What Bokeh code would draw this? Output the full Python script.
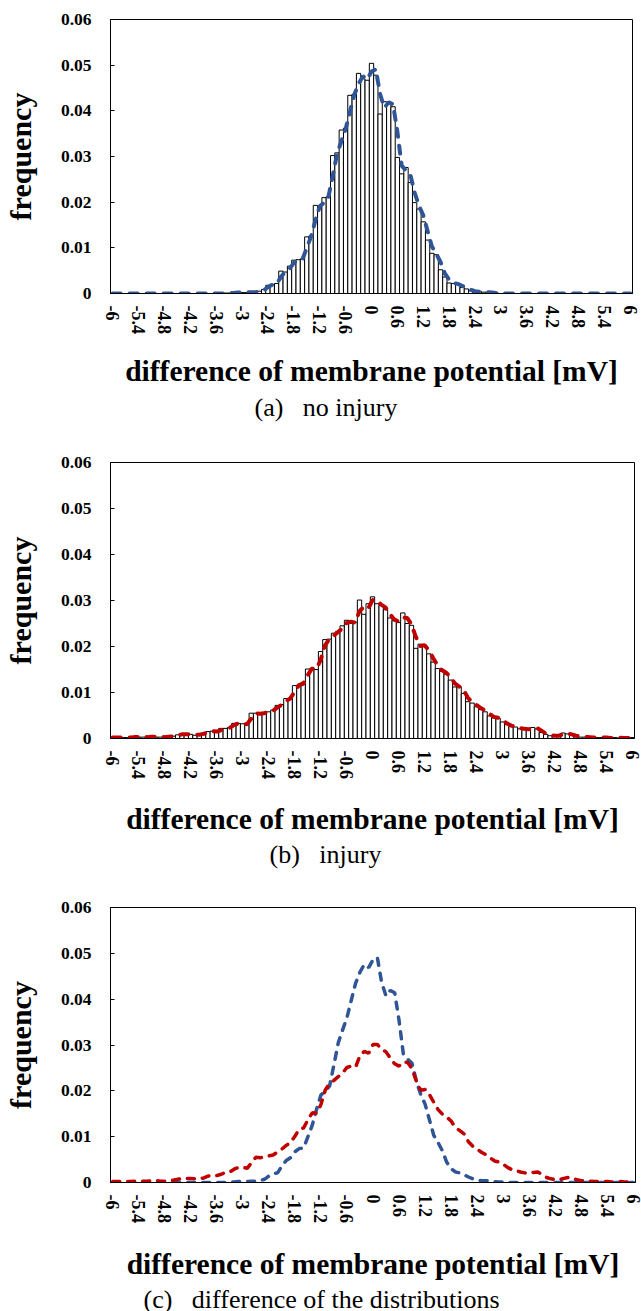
import math
from bokeh.plotting import figure
from bokeh.models import Range1d, FixedTicker, Title
from bokeh.layouts import column
from bokeh.embed import file_html
from bokeh.resources import INLINE

# categories: bins of 0.1 mV from -6 to 6
bins = [round(-6 + 0.1 * k, 1) for k in range(121)]

x_ticks = [-6, -5.4, -4.8, -4.2, -3.6, -3, -2.4, -1.8, -1.2, -0.6, 0,
           0.6, 1.2, 1.8, 2.4, 3, 3.6, 4.2, 4.8, 5.4, 6]
x_tick_labels = ["-6", "-5.4", "-4.8", "-4.2", "-3.6", "-3", "-2.4", "-1.8", "-1.2", "-0.6", "0",
                 "0.6", "1.2", "1.8", "2.4", "3", "3.6", "4.2", "4.8", "5.4", "6"]
y_ticks = [0, 0.01, 0.02, 0.03, 0.04, 0.05, 0.06]
y_tick_labels = ["0", "0.01", "0.02", "0.03", "0.04", "0.05", "0.06"]

# (a) no injury : histogram frequencies
no_injury_hist = [
    0, 0, 0, 0, 0, 0, 0, 0, 0, 0,
    0, 0, 0, 0, 0, 0, 0, 0, 0, 0,
    0, 0, 0, 0, 0, 0, 0.0001, 0.0001, 0.0001, 0.0002,
    0.0002, 0.0002, 0.0003, 0.0003, 0.0005, 0.0009, 0.0018, 0.0020, 0.0022, 0.0049,
    0.0047, 0.0060, 0.0073, 0.0074, 0.0076, 0.0124, 0.0126, 0.0193, 0.0188, 0.0210,
    0.0212, 0.0302, 0.0308, 0.0358, 0.0362, 0.0434, 0.0436, 0.0482, 0.0470, 0.0467,
    0.0504, 0.0478, 0.0393, 0.0420, 0.0418, 0.0409, 0.0298, 0.0262, 0.0276, 0.0243,
    0.0199, 0.0185, 0.0157, 0.0117, 0.0088, 0.0085, 0.0052, 0.0036, 0.0023, 0.0022,
    0.0020, 0.0013, 0.0010, 0.0006, 0.0004, 0.0004, 0.0003, 0.0002, 0.0001, 0.0001,
    0, 0, 0, 0, 0, 0, 0, 0, 0, 0,
    0, 0, 0, 0, 0, 0, 0, 0, 0, 0,
    0, 0, 0, 0, 0, 0, 0, 0, 0, 0,
    0]

# (a) dashed trend line (blue)
no_injury_line = [
    0, 0, 0, 0, 0, 0, 0, 0, 0, 0,
    0, 0, 0, 0, 0, 0, 0, 0, 0, 0,
    0, 0, 0, 0, 0, 0, 0, 0.0001, 0.0001, 0.0002,
    0.0002, 0.0002, 0.0003, 0.0003, 0.0004, 0.0007, 0.0014, 0.0019, 0.0021, 0.0036,
    0.0048, 0.0054, 0.0067, 0.0074, 0.0075, 0.0100, 0.0125, 0.0160, 0.0191, 0.0199,
    0.0211, 0.0257, 0.0305, 0.0333, 0.0360, 0.0398, 0.0435, 0.0459, 0.0476, 0.0469,
    0.0486, 0.0491, 0.0436, 0.0407, 0.0419, 0.0414, 0.0354, 0.0280, 0.0269, 0.0260,
    0.0221, 0.0192, 0.0171, 0.0137, 0.0103, 0.0087, 0.0069, 0.0044, 0.0030, 0.0023,
    0.0021, 0.0017, 0.0012, 0.0008, 0.0005, 0.0004, 0.0004, 0.0003, 0.0002, 0.0001,
    0.0001, 0, 0, 0, 0, 0, 0, 0, 0, 0,
    0, 0, 0, 0, 0, 0, 0, 0, 0, 0,
    0, 0, 0, 0, 0, 0, 0, 0, 0, 0,
    0]

# (b) injury : histogram frequencies
injury_hist = [
    0.0002, 0.0002, 0.0002, 0.0002, 0.0002, 0.0003, 0.0003, 0.0003, 0.0003, 0.0004,
    0.0003, 0.0003, 0.0003, 0.0004, 0.0005, 0.0008, 0.0009, 0.0009, 0.0009, 0.0007,
    0.0008, 0.0012, 0.0015, 0.0016, 0.0014, 0.0022, 0.0022, 0.0024, 0.0033, 0.0033,
    0.0032, 0.0030, 0.0055, 0.0055, 0.0052, 0.0057, 0.0058, 0.0062, 0.0072, 0.0074,
    0.0087, 0.0086, 0.0115, 0.0116, 0.0122, 0.0151, 0.0152, 0.0150, 0.0189, 0.0215,
    0.0216, 0.0229, 0.0233, 0.0245, 0.0257, 0.0250, 0.0253, 0.0301, 0.0270, 0.0293,
    0.0308, 0.0293, 0.0289, 0.0280, 0.0262, 0.0256, 0.0252, 0.0273, 0.0250, 0.0246,
    0.0196, 0.0205, 0.0200, 0.0184, 0.0166, 0.0152, 0.0146, 0.0140, 0.0127, 0.0112,
    0.0113, 0.0098, 0.0080, 0.0077, 0.0069, 0.0063, 0.0058, 0.0049, 0.0045, 0.0044,
    0.0036, 0.0030, 0.0026, 0.0025, 0.0021, 0.0021, 0.0019, 0.0024, 0.0021, 0.0013,
    0.0009, 0.0006, 0.0005, 0.0006, 0.0012, 0.0010, 0.0007, 0.0004, 0.0003, 0.0003,
    0.0002, 0.0002, 0.0002, 0.0002, 0.0001, 0.0001, 0.0002, 0.0001, 0.0001, 0.0001,
    0.0002]

# (b) dashed trend line (red)
injury_line = [
    0.0002, 0.0002, 0.0002, 0.0002, 0.0002, 0.0003, 0.0003, 0.0003, 0.0003, 0.0004,
    0.0004, 0.0003, 0.0003, 0.0004, 0.0005, 0.0007, 0.0009, 0.0009, 0.0009, 0.0008,
    0.0008, 0.0010, 0.0014, 0.0016, 0.0015, 0.0018, 0.0022, 0.0023, 0.0029, 0.0033,
    0.0033, 0.0031, 0.0043, 0.0055, 0.0054, 0.0055, 0.0058, 0.0060, 0.0067, 0.0073,
    0.0081, 0.0087, 0.0101, 0.0116, 0.0119, 0.0137, 0.0152, 0.0151, 0.0170, 0.0202,
    0.0216, 0.0223, 0.0231, 0.0239, 0.0251, 0.0254, 0.0252, 0.0277, 0.0286, 0.0282,
    0.0301, 0.0301, 0.0291, 0.0285, 0.0271, 0.0259, 0.0254, 0.0263, 0.0262, 0.0248,
    0.0221, 0.0201, 0.0203, 0.0192, 0.0175, 0.0159, 0.0149, 0.0143, 0.0134, 0.0120,
    0.0113, 0.0106, 0.0089, 0.0079, 0.0073, 0.0066, 0.0061, 0.0054, 0.0047, 0.0045,
    0.0040, 0.0033, 0.0028, 0.0026, 0.0023, 0.0021, 0.0020, 0.0022, 0.0023, 0.0017,
    0.0011, 0.0008, 0.0006, 0.0006, 0.0009, 0.0011, 0.0009, 0.0006, 0.0004, 0.0003,
    0.0003, 0.0002, 0.0002, 0.0002, 0.0002, 0.0001, 0.0002, 0.0002, 0.0001, 0.0001,
    0.0002]

BLUE = "#2F5597"
RED = "#C00000"
SERIF = "Liberation Serif"
GAP = "\u00a0\u00a0\u00a0"


def make_panel(frame_w, frame_h, left, right, top, bottom, caption, cap_offset,
               lbl_standoff=12, title_standoff=18, cap_standoff=3):
    p = figure(frame_width=frame_w, frame_height=frame_h,
               min_border_left=left, min_border_right=right,
               min_border_top=top, min_border_bottom=bottom,
               x_range=Range1d(-6.05, 6.05), y_range=Range1d(0, 0.06),
               output_backend="svg", toolbar_location=None)
    p.background_fill_color = "white"
    p.border_fill_color = "white"
    p.outline_line_color = "black"
    p.outline_line_width = 1
    p.xgrid.visible = False
    p.ygrid.visible = False

    xa = p.xaxis[0]
    xa.ticker = FixedTicker(ticks=x_ticks)
    xa.major_label_overrides = {t: s for t, s in zip(x_ticks, x_tick_labels)}
    xa.major_label_orientation = "vertical"
    xa.major_tick_in = 0
    xa.major_tick_out = 0
    xa.minor_tick_in = 0
    xa.minor_tick_out = 0
    xa.axis_line_color = "black"
    xa.major_label_standoff = lbl_standoff
    xa.major_label_text_font = SERIF
    xa.major_label_text_font_style = "bold"
    xa.major_label_text_font_size = "18px"
    xa.major_label_text_color = "black"
    xa.axis_label = "difference of membrane potential [mV]"
    xa.axis_label_text_font = SERIF
    xa.axis_label_text_font_style = "bold"
    xa.axis_label_text_font_size = "29.5px"
    xa.axis_label_text_color = "black"
    xa.axis_label_standoff = title_standoff

    ya = p.yaxis[0]
    ya.ticker = FixedTicker(ticks=y_ticks)
    ya.major_label_overrides = {t: s for t, s in zip(y_ticks, y_tick_labels)}
    ya.major_tick_in = 4
    ya.major_tick_out = 0
    ya.minor_tick_in = 0
    ya.minor_tick_out = 0
    ya.axis_line_color = "black"
    ya.major_tick_line_color = "black"
    ya.major_label_standoff = 19
    ya.major_label_text_font = SERIF
    ya.major_label_text_font_style = "bold"
    ya.major_label_text_font_size = "17.5px"
    ya.major_label_text_color = "black"
    ya.axis_label = "frequency"
    ya.axis_label_text_font = SERIF
    ya.axis_label_text_font_style = "bold"
    ya.axis_label_text_font_size = "30px"
    ya.axis_label_text_color = "black"
    ya.axis_label_standoff = 21

    cap = Title(text=caption, align="left", offset=cap_offset,
                text_font=SERIF, text_font_size="26px",
                text_font_style="normal", text_color="black",
                standoff=cap_standoff)
    p.add_layout(cap, "below")
    return p


pa = make_panel(522, 274, 107, 12, 19, 158, "(a)" + GAP + "no injury", 144)
pa.vbar(x=bins, top=no_injury_hist, width=0.1, bottom=0,
        fill_color="white", line_color="black", line_width=1)
pa.line(bins, no_injury_line, line_color=BLUE, line_width=4,
        line_dash="8 9", line_cap="round")

pb = make_panel(524, 276, 109, 8, 11, 158, "(b)" + GAP + "injury", 159,
                title_standoff=21, cap_standoff=0)
pb.vbar(x=bins, top=injury_hist, width=0.1, bottom=0,
        fill_color="white", line_color="black", line_width=1)
pb.line(bins, injury_line, line_color=RED, line_width=4,
        line_dash="8 9", line_cap="round")

pc = make_panel(525, 275, 108, 8, 11, 129,
                "(c)" + GAP + "difference of the distributions", 33,
                title_standoff=22, cap_standoff=0)
pc.line(bins, no_injury_line, line_color=BLUE, line_width=3.5,
        line_dash="7 8", line_cap="round")
pc.line(bins, injury_line, line_color=RED, line_width=3.5,
        line_dash="7 8", line_cap="round")

layout = column(pa, pb, pc, spacing=0)

open("out.html", "w").write(file_html(layout, INLINE))
